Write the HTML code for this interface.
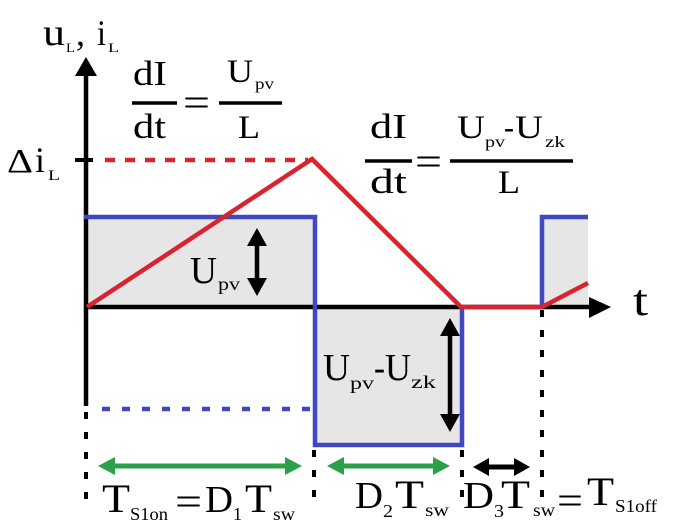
<!DOCTYPE html>
<html><head><meta charset="utf-8"><style>
html,body{margin:0;padding:0;background:#fff;}
svg{display:block;}
text{font-family:"Liberation Serif",serif;fill:#000;}
</style></head><body>
<svg width="678" height="530" viewBox="0 0 678 530" xmlns="http://www.w3.org/2000/svg">
<!-- gray fills -->
<rect x="86" y="217" width="229" height="90" fill="#e6e6e6"/>
<rect x="315" y="307" width="147" height="138" fill="#e6e6e6"/>
<rect x="542" y="217" width="46" height="90" fill="#e6e6e6"/>

<!-- axes -->
<line x1="86" y1="406" x2="86" y2="72" stroke="#000" stroke-width="4.5"/>
<polygon points="75,76 86,57 97,76" fill="#000"/>
<line x1="84" y1="307" x2="594" y2="307" stroke="#000" stroke-width="4.5"/>
<polygon points="589,297 611,307 589,318" fill="#000"/>
<line x1="75" y1="160" x2="93" y2="160" stroke="#000" stroke-width="4"/>

<!-- dashed verticals -->
<line x1="86" y1="412" x2="86" y2="499" stroke="#000" stroke-width="4" stroke-dasharray="7 13"/>
<line x1="314" y1="450" x2="314" y2="499" stroke="#000" stroke-width="4" stroke-dasharray="7 13"/>
<line x1="462" y1="450" x2="462" y2="499" stroke="#000" stroke-width="4" stroke-dasharray="7 13"/>
<line x1="542" y1="310" x2="542" y2="499" stroke="#000" stroke-width="4" stroke-dasharray="7 13"/>

<!-- dashed horizontals -->
<line x1="105" y1="160" x2="308" y2="160" stroke="#d92430" stroke-width="4.5" stroke-dasharray="10 10"/>
<line x1="102" y1="409" x2="313" y2="409" stroke="#3f48c0" stroke-width="4.5" stroke-dasharray="8 12"/>

<!-- blue waveform -->
<path d="M84,217 H315 V445 H462 V307" fill="none" stroke="#3f48c0" stroke-width="4.5"/>
<path d="M542,307 V217 H588" fill="none" stroke="#3f48c0" stroke-width="4.5"/>

<!-- red current -->
<path d="M87,307 L312,159 L461,307 L542,307 L588,283" fill="none" stroke="#d92430" stroke-width="4.5" stroke-linejoin="miter"/>

<!-- vertical arrows -->
<line x1="257" y1="244" x2="257" y2="280" stroke="#000" stroke-width="4.5"/>
<polygon points="247,246 257,228 267,246" fill="#000"/>
<polygon points="247,278 257,296 267,278" fill="#000"/>
<line x1="450" y1="334" x2="450" y2="416" stroke="#000" stroke-width="4.5"/>
<polygon points="440,336 450,318 460,336" fill="#000"/>
<polygon points="440,414 450,432 460,414" fill="#000"/>

<!-- horizontal arrows -->
<line x1="112" y1="466" x2="288" y2="466" stroke="#2ca048" stroke-width="5"/>
<polygon points="115,457 98,466 115,475" fill="#2ca048"/>
<polygon points="285,457 302,466 285,475" fill="#2ca048"/>
<line x1="340" y1="466" x2="437" y2="466" stroke="#2ca048" stroke-width="5"/>
<polygon points="344,457 327,466 344,475" fill="#2ca048"/>
<polygon points="433,457 450,466 433,475" fill="#2ca048"/>
<line x1="485" y1="467" x2="518" y2="467" stroke="#000" stroke-width="5"/>
<polygon points="489,458 473,467 489,476" fill="#000"/>
<polygon points="514,458 530,467 514,476" fill="#000"/>

<!-- fraction bars -->
<line x1="132" y1="103" x2="177" y2="103" stroke="#000" stroke-width="3.5"/>
<line x1="219" y1="103" x2="282" y2="103" stroke="#000" stroke-width="3.5"/>
<line x1="365" y1="161" x2="412" y2="161" stroke="#000" stroke-width="3.5"/>
<line x1="450" y1="161" x2="573" y2="161" stroke="#000" stroke-width="3.5"/>

<!-- axis labels -->
<text x="43" y="45" font-size="38" textLength="22" lengthAdjust="spacingAndGlyphs">u</text>
<text x="66" y="52" font-size="13" textLength="9" lengthAdjust="spacingAndGlyphs">L</text>
<text x="76" y="45" font-size="36">,</text>
<text x="97" y="45" font-size="36" textLength="9" lengthAdjust="spacingAndGlyphs">i</text>
<text x="108" y="52" font-size="13" textLength="11" lengthAdjust="spacingAndGlyphs">L</text>

<text x="7" y="172" font-size="34" textLength="26" lengthAdjust="spacingAndGlyphs">Δ</text>
<text x="35" y="172" font-size="36" textLength="10" lengthAdjust="spacingAndGlyphs">i</text>
<text x="48" y="180" font-size="15" textLength="12" lengthAdjust="spacingAndGlyphs">L</text>

<text x="633" y="315" font-size="44" textLength="15" lengthAdjust="spacingAndGlyphs">t</text>

<!-- formula 1 -->
<text x="133" y="85" font-size="35" textLength="34" lengthAdjust="spacingAndGlyphs">dI</text>
<text x="133" y="138" font-size="35" textLength="33" lengthAdjust="spacingAndGlyphs">dt</text>
<text x="183" y="116" font-size="40" textLength="27" lengthAdjust="spacingAndGlyphs">=</text>
<text x="227" y="82" font-size="33" textLength="26" lengthAdjust="spacingAndGlyphs">U</text>
<text x="255" y="89" font-size="16" textLength="19" lengthAdjust="spacingAndGlyphs">pv</text>
<text x="238" y="138" font-size="33" textLength="22" lengthAdjust="spacingAndGlyphs">L</text>

<!-- formula 2 -->
<text x="370" y="138" font-size="35" textLength="37" lengthAdjust="spacingAndGlyphs">dI</text>
<text x="370" y="193" font-size="35" textLength="37" lengthAdjust="spacingAndGlyphs">dt</text>
<text x="415" y="175" font-size="40" textLength="27" lengthAdjust="spacingAndGlyphs">=</text>
<text x="457" y="138" font-size="33" textLength="28" lengthAdjust="spacingAndGlyphs">U</text>
<text x="485" y="147" font-size="16" textLength="20" lengthAdjust="spacingAndGlyphs">pv</text>
<text x="504" y="138" font-size="33" textLength="10" lengthAdjust="spacingAndGlyphs">-</text>
<text x="515" y="138" font-size="33" textLength="28" lengthAdjust="spacingAndGlyphs">U</text>
<text x="545" y="147" font-size="16" textLength="20" lengthAdjust="spacingAndGlyphs">zk</text>
<text x="498" y="193" font-size="33" textLength="22" lengthAdjust="spacingAndGlyphs">L</text>

<!-- in-plot labels -->
<text x="190" y="283" font-size="38" textLength="27" lengthAdjust="spacingAndGlyphs">U</text>
<text x="218" y="290" font-size="18" textLength="22" lengthAdjust="spacingAndGlyphs">pv</text>
<text x="323" y="380" font-size="38" textLength="27" lengthAdjust="spacingAndGlyphs">U</text>
<text x="350" y="389" font-size="18" textLength="24" lengthAdjust="spacingAndGlyphs">pv</text>
<text x="374" y="380" font-size="38" textLength="11" lengthAdjust="spacingAndGlyphs">-</text>
<text x="385" y="380" font-size="38" textLength="26" lengthAdjust="spacingAndGlyphs">U</text>
<text x="411" y="388" font-size="18" textLength="25" lengthAdjust="spacingAndGlyphs">zk</text>

<!-- bottom labels -->
<text x="102" y="512" font-size="40" textLength="28" lengthAdjust="spacingAndGlyphs">T</text>
<text x="130" y="520" font-size="18" textLength="38" lengthAdjust="spacingAndGlyphs">S1on</text>
<text x="175" y="515" font-size="40" textLength="27" lengthAdjust="spacingAndGlyphs">=</text>
<text x="205" y="512" font-size="38" textLength="28" lengthAdjust="spacingAndGlyphs">D</text>
<text x="233" y="520" font-size="18" textLength="9" lengthAdjust="spacingAndGlyphs">1</text>
<text x="245" y="512" font-size="40" textLength="27" lengthAdjust="spacingAndGlyphs">T</text>
<text x="273" y="520" font-size="18" textLength="22" lengthAdjust="spacingAndGlyphs">sw</text>

<text x="355" y="508" font-size="38" textLength="28" lengthAdjust="spacingAndGlyphs">D</text>
<text x="383" y="517" font-size="18" textLength="10" lengthAdjust="spacingAndGlyphs">2</text>
<text x="395" y="508" font-size="40" textLength="29" lengthAdjust="spacingAndGlyphs">T</text>
<text x="425" y="516" font-size="18" textLength="24" lengthAdjust="spacingAndGlyphs">sw</text>

<text x="463" y="508" font-size="38" textLength="31" lengthAdjust="spacingAndGlyphs">D</text>
<text x="494" y="517" font-size="18" textLength="10" lengthAdjust="spacingAndGlyphs">3</text>
<text x="501" y="508" font-size="40" textLength="29" lengthAdjust="spacingAndGlyphs">T</text>
<text x="533" y="516" font-size="18" textLength="22" lengthAdjust="spacingAndGlyphs">sw</text>
<text x="557" y="514" font-size="40" textLength="26" lengthAdjust="spacingAndGlyphs">=</text>
<text x="587" y="505" font-size="40" textLength="27" lengthAdjust="spacingAndGlyphs">T</text>
<text x="615" y="512" font-size="18" textLength="42" lengthAdjust="spacingAndGlyphs">S1off</text>
</svg>
</body></html>
